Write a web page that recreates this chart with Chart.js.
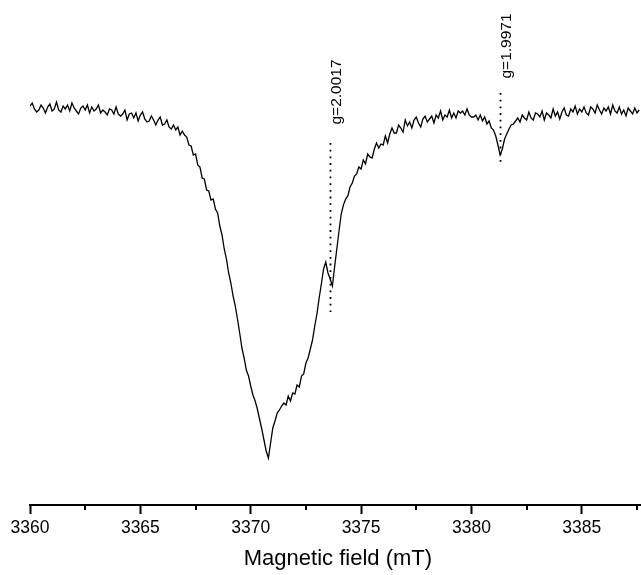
<!DOCTYPE html>
<html>
<head>
<meta charset="utf-8">
<script src="https://cdn.jsdelivr.net/npm/chart.js@4/dist/chart.umd.min.js"></script>
<style>
  html, body { margin: 0; padding: 0; background: #fff; }
  #wrap { width: 641px; height: 575px; }
</style>
</head>
<body>
<div id="wrap"><canvas id="c" width="641" height="575"></canvas></div>
<script>
// Sampling grid of the field axis (mT)
const fieldStart = 3360.0;
const fieldStep = 0.1;

// Signal (arbitrary units), one value per field sample
const signal = [
  399,402,396,393,395,400,397,392,398,401,394,396,403,395,393,399,396,400,394,402,397,
  394,391,397,399,395,400,392,398,394,396,
  400,392,395,393,390,396,395,391,398,391,
  389,391,395,385,391,392,387,392,384,390,
  393,386,383,384,389,
  385,380,385,388,380,
  381,385,378,376,380,
  375,378,370,374,370,
  368,360,359,350,351,340,338,327,326,315,
  314,305,306,296,292,279,270,256,246,232,
  222,209,199,186,172,157,147,135,129,119,
  110,104,96,86,76,65,54,47,62,77,
  84,92,95,99,102,100,109,104,112,111,
  120,118,129,131,142,147,156,165,179,191,
  207,221,236,243,232,226,219,238,256,274,
  291,300,306,309,318,322,329,331,338,336,
  345,341,351,348,347,
  356,362,357,361,360,
  369,362,371,377,372,
  372,380,377,373,385,
  379,383,377,385,388,
  382,378,386,389,383,
  386,389,382,390,387,394,385,390,388,395,
  387,392,387,394,392,394,
  390,396,390,388,
  388,390,385,390,384,388,381,384,377,375,
  369,360,350,356,366,371,376,380,381,384,
  387,383,390,387,385,
  393,387,385,392,391,
  388,394,385,392,390,387,396,389,393,386,
  393,397,390,389,396,393,399,391,396,393,
  398,392,390,398,396,392,400,395,391,397,
  394,398,391,400,394,392,398,391,395,389,
  397,394,391,397,392,395
];

// Axis
const fieldMin = 3360;
const fieldMax = 3387.65;
const majorStep = 5;
const minorStep = 2.5;
const signalMin = 0;
const signalMax = 505;
const axisTitle = 'Magnetic field (mT)';

// g-value markers
const markerFields = [3373.57, 3381.3];
const markerLabels = ['g=2.0017', 'g=1.9971'];
const markerTop = [362, 412];
const markerBottom = [193, 342];
const markerLabelAt = [413, 459];

const points = signal.map((v, i) => ({ x: +(fieldStart + i * fieldStep).toFixed(2), y: v }));

const isMajor = (v) => Math.abs(v / majorStep - Math.round(v / majorStep)) < 1e-6;

const FONT = '"Liberation Sans", Arial, Helvetica, sans-serif';

const markerPlugin = {
  id: 'markers',
  afterDraw(chart) {
    const { ctx, scales: { x, y } } = chart;
    ctx.save();
    // minor ticks
    ctx.strokeStyle = '#000';
    ctx.lineWidth = 2;
    x.ticks.forEach(t => {
      if (!isMajor(t.value)) {
        const px = Math.round(x.getPixelForValue(t.value));
        ctx.beginPath();
        ctx.moveTo(px, x.top);
        ctx.lineTo(px, x.top + 5);
        ctx.stroke();
      }
    });
    // axis title (centred on the full axis of the original figure)
    ctx.font = '22px ' + FONT;
    ctx.fillStyle = '#000';
    ctx.textAlign = 'center';
    ctx.textBaseline = 'middle';
    ctx.fillText(axisTitle, x.getPixelForValue(3373.95), chart.height - 16.2);
    // dotted markers and labels
    markerFields.forEach((f, i) => {
      const px = Math.round(x.getPixelForValue(f)) + 0.5;
      ctx.beginPath();
      ctx.setLineDash([1.8, 4.9]);
      ctx.lineWidth = 1.8;
      ctx.strokeStyle = '#000';
      ctx.moveTo(px, y.getPixelForValue(markerTop[i]));
      ctx.lineTo(px, y.getPixelForValue(markerBottom[i]));
      ctx.stroke();
      ctx.setLineDash([]);
      ctx.save();
      ctx.translate(px + 6, y.getPixelForValue(markerLabelAt[i]));
      ctx.rotate(-Math.PI / 2);
      ctx.font = '15.5px ' + FONT;
      ctx.fillStyle = '#000';
      ctx.textAlign = 'center';
      ctx.textBaseline = 'middle';
      ctx.fillText(markerLabels[i], 0, 0);
      ctx.restore();
    });
    ctx.restore();
  }
};

new Chart(document.getElementById('c'), {
  type: 'line',
  data: {
    datasets: [{
      data: points,
      borderColor: '#000',
      borderWidth: 1.3,
      pointRadius: 0,
      tension: 0,
      fill: false
    }]
  },
  options: {
    responsive: false,
    animation: false,
    events: [],
    layout: { padding: { left: 30, right: 0, top: 0, bottom: 32 } },
    plugins: { legend: { display: false }, tooltip: { enabled: false }, title: { display: false } },
    scales: {
      x: {
        type: 'linear',
        position: 'bottom',
        min: fieldMin,
        max: fieldMax,
        border: { display: true, color: '#000', width: 2 },
        grid: {
          display: true,
          drawOnChartArea: false,
          drawTicks: true,
          tickLength: 9,
          tickWidth: 2,
          tickColor: (ctx) => (ctx.tick && isMajor(ctx.tick.value)) ? '#000' : 'rgba(0,0,0,0)'
        },
        ticks: {
          stepSize: minorStep,
          includeBounds: false,
          autoSkip: false,
          maxRotation: 0,
          minRotation: 0,
          padding: 4,
          color: '#000',
          font: { family: FONT, size: 17.5 },
          callback: (v) => isMajor(v) ? String(Math.round(v)) : ''
        },
        title: { display: false }
      },
      y: {
        display: false,
        min: signalMin,
        max: signalMax
      }
    }
  },
  plugins: [markerPlugin]
});
</script>
</body>
</html>
